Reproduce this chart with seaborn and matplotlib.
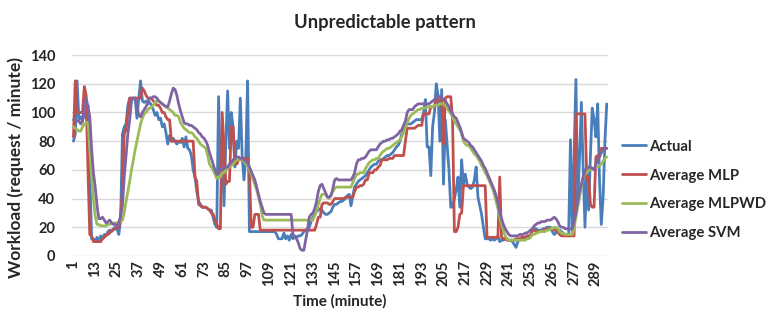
import matplotlib
matplotlib.use("Agg")
import matplotlib.pyplot as plt
import seaborn as sns
import pandas as pd
from matplotlib.lines import Line2D

actual = [
    80, 85, 122, 95, 97, 94, 100, 96, 105, 60,
    12, 12, 10, 13, 10, 14, 12, 15, 14, 17,
    18, 17, 19, 20, 19, 15, 25, 85, 90, 92,
    105, 110, 110, 110, 110, 96, 110, 122, 108, 107,
    108, 106, 107, 105, 102, 98, 100, 95, 96, 90,
    92, 86, 78, 84, 80, 82, 80, 78, 80, 79,
    82, 76, 83, 75, 74, 70, 60, 55, 45, 38,
    36, 34, 34, 34, 33, 32, 32, 27, 22, 20,
    111, 57, 78, 35, 80, 115, 75, 100, 90, 62,
    80, 75, 110, 70, 53, 68, 122, 17, 17, 17,
    17, 17, 17, 17, 17, 17, 17, 17, 17, 17,
    17, 17, 15, 12, 12, 12, 16, 12, 14, 11,
    15, 12, 14, 13, 14, 14, 15, 17, 18, 19,
    20, 24, 27, 29, 31, 32, 33, 32, 30, 29,
    29, 30, 31, 34, 36, 36, 37, 38, 38, 39,
    40, 42, 43, 35, 42, 48, 50, 52, 53, 54,
    55, 56, 58, 60, 62, 63, 64, 64, 66, 67,
    67, 68, 69, 70, 70, 71, 72, 74, 76, 77,
    80, 85, 88, 90, 92, 92, 92, 93, 94, 95,
    95, 95, 95, 100, 109, 76, 76, 56, 90, 100,
    120, 112, 80, 116, 50, 95, 78, 60, 34, 34,
    40, 46, 55, 34, 67, 50, 57, 50, 48, 47,
    48, 53, 62, 41, 35, 29, 20, 12, 12, 12,
    11, 12, 11, 12, 14, 10, 11, 11, 12, 12,
    11, 11, 10, 8, 6, 10, 12, 12, 13, 13,
    13, 14, 14, 18, 19, 19, 18, 18, 18, 19,
    19, 20, 20, 20, 17, 15, 16, 18, 18, 17,
    16, 15, 15, 15, 81, 15, 71, 123, 36, 69,
    107, 60, 20, 60, 32, 70, 103, 95, 83, 106,
    53, 22, 41, 80, 106,
]

avg_mlp = [
    83, 122, 100, 100, 100, 100, 118, 112, 60, 15,
    14, 10, 10, 10, 10, 10, 12, 13, 15, 15,
    16, 18, 18, 19, 20, 20, 28, 45, 85, 88,
    100, 110, 110, 110, 110, 110, 110, 110, 117, 115,
    112, 110, 110, 110, 108, 107, 105, 105, 103, 100,
    100, 97, 95, 95, 80, 80, 80, 80, 80, 80,
    80, 80, 80, 80, 80, 80, 80, 55, 52, 36,
    35, 34, 34, 34, 33, 32, 30, 29, 25, 22,
    19, 19, 100, 75, 50, 52, 52, 90, 90, 64,
    64, 67, 67, 68, 68, 68, 68, 60, 20, 20,
    29, 29, 29, 18, 18, 18, 18, 18, 18, 18,
    18, 18, 18, 18, 18, 18, 18, 18, 18, 18,
    18, 18, 18, 18, 18, 18, 18, 18, 18, 18,
    18, 18, 18, 18, 22, 27, 27, 36, 37, 37,
    37, 36, 36, 38, 40, 40, 40, 40, 40, 40,
    41, 41, 41, 41, 41, 45, 48, 48, 49, 49,
    50, 53, 53, 58, 58, 58, 60, 60, 62, 63,
    67, 67, 67, 67, 68, 68, 68, 70, 70, 70,
    70, 70, 70, 80, 89, 89, 89, 89, 89, 90,
    91, 91, 91, 99, 99, 99, 99, 104, 104, 104,
    109, 109, 108, 108, 78, 110, 111, 111, 111, 95,
    17, 17, 20, 29, 30, 49, 49, 49, 49, 49,
    49, 49, 49, 49, 49, 49, 49, 49, 13, 13,
    13, 13, 13, 13, 13, 55, 13, 12, 12, 11,
    11, 11, 11, 11, 12, 12, 12, 13, 13, 13,
    14, 14, 14, 18, 18, 17, 17, 17, 17, 18,
    18, 19, 19, 19, 19, 18, 18, 17, 15, 14,
    14, 14, 14, 14, 14, 14, 14, 99, 99, 99,
    99, 99, 99, 53, 55, 36, 34, 34, 69, 70,
    70, 75, 75, 75, 75,
]

avg_mlpwd = [
    90, 89, 88, 87, 87, 90, 92, 93, 93, 75,
    55, 40, 28, 22, 22, 21, 21, 21, 21, 22,
    22, 23, 23, 23, 23, 24, 24, 25, 30, 38,
    45, 52, 60, 67, 74, 80, 86, 92, 96, 99,
    100, 102, 103, 104, 105, 107, 108, 108, 107, 106,
    105, 104, 103, 102, 101, 100, 98, 98, 97, 93,
    91, 89, 88, 87, 86, 86, 85, 83, 82, 80,
    78, 77, 76, 75, 70, 64, 62, 60, 57, 54,
    55, 55, 58, 58, 60, 61, 62, 63, 64, 66,
    67, 67, 68, 67, 66, 64, 63, 60, 57, 53,
    50, 46, 41, 36, 28, 25, 25, 25, 25, 25,
    25, 25, 25, 25, 25, 25, 25, 25, 25, 25,
    25, 25, 25, 25, 25, 25, 25, 25, 25, 25,
    25, 25, 25, 28, 31, 36, 40, 43, 43, 43,
    41, 40, 43, 45, 47, 48, 48, 48, 48, 48,
    48, 48, 48, 48, 51, 54, 57, 57, 58, 58,
    58, 61, 63, 65, 66, 67, 67, 68, 68, 70,
    72, 73, 74, 75, 75, 76, 77, 78, 79, 80,
    81, 83, 86, 90, 93, 96, 98, 99, 100, 101,
    102, 102, 103, 103, 103, 104, 104, 104, 104, 105,
    105, 105, 106, 106, 106, 105, 103, 101, 99, 97,
    94, 92, 90, 88, 85, 80, 78, 77, 77, 75,
    73, 71, 70, 68, 66, 63, 61, 58, 56, 53,
    50, 47, 43, 38, 33, 27, 22, 18, 14, 12,
    11, 11, 11, 11, 11, 11, 11, 11, 11, 11,
    12, 12, 13, 15, 15, 16, 16, 17, 17, 17,
    17, 18, 18, 19, 19, 20, 20, 19, 17, 16,
    16, 15, 15, 15, 15, 15, 20, 27, 34, 41,
    48, 55, 57, 58, 60, 60, 61, 61, 62, 62,
    63, 64, 66, 68, 69,
]

avg_svm = [
    95, 95, 94, 94, 92, 94, 105, 110, 104, 97,
    75, 58, 48, 35, 26, 26, 27, 25, 23, 24,
    25, 23, 22, 22, 21, 23, 28, 35, 55, 70,
    85, 95, 108, 110, 110, 105, 98, 97, 100, 102,
    104, 107, 110, 110, 111, 111, 110, 108, 107, 106,
    105, 104, 104, 108, 113, 117, 116, 112, 106, 101,
    97, 93, 92, 92, 91, 91, 90, 89, 88, 86,
    85, 83, 82, 80, 77, 72, 68, 64, 60, 57,
    58, 60, 61, 61, 62, 62, 64, 65, 67, 68,
    69, 69, 68, 68, 67, 66, 65, 62, 59, 56,
    53, 48, 43, 38, 34, 30, 29, 29, 29, 29,
    29, 29, 29, 29, 29, 29, 29, 29, 29, 29,
    29, 15, 13, 12, 9, 5, 4, 4, 11, 18,
    27, 29, 30, 33, 38, 45, 49, 50, 47, 44,
    41, 41, 42, 47, 53, 54, 53, 53, 53, 53,
    53, 53, 53, 53, 55, 58, 64, 67, 67, 68,
    68, 69, 71, 73, 74, 74, 74, 74, 76, 78,
    79, 80, 80, 81, 81, 82, 82, 83, 84, 85,
    87, 88, 91, 94, 100, 102, 102, 102, 104, 105,
    106, 106, 106, 106, 106, 106, 106, 107, 108, 109,
    110, 111, 111, 110, 109, 108, 106, 104, 101, 99,
    97, 96, 93, 90, 86, 82, 81, 80, 79, 77,
    76, 74, 72, 70, 68, 66, 63, 61, 58, 55,
    52, 49, 46, 42, 37, 30, 26, 22, 19, 17,
    15, 14, 14, 14, 14, 14, 15, 15, 15, 16,
    16, 17, 18, 19, 21, 22, 23, 23, 24, 24,
    24, 25, 25, 25, 26, 27, 26, 24, 21, 20,
    20, 19, 19, 19, 19, 19, 24, 30, 38, 45,
    50, 55, 60, 61, 62, 62, 61, 60, 64, 67,
    69, 72, 74, 75, 75,
]

series_names = ["Actual", "Average MLP", "Average MLPWD", "Average SVM"]
series_values = [actual, avg_mlp, avg_mlpwd, avg_svm]
colors = ["#4A7EBB", "#C0504D", "#9BBB59", "#8064A2"]
x_ticks = list(range(1, 290, 12))
y_ticks = [0, 20, 40, 60, 80, 100, 120, 140]

frames = []
for name, vals in zip(series_names, series_values):
    frames.append(pd.DataFrame({"minute": list(range(1, len(vals) + 1)),
                                "value": vals, "series": name}))
df = pd.concat(frames, ignore_index=True)

sns.set_theme(style="white")
FONT = ["Lato", "DejaVu Sans"]
plt.rcParams["font.family"] = FONT

fig = plt.figure(figsize=(7.66, 3.22), dpi=100)
ax = fig.add_axes([0.094, 0.205, 0.700, 0.624])

sns.lineplot(data=df, x="minute", y="value", hue="series",
             hue_order=series_names, palette=colors, linewidth=2.0,
             ax=ax, legend=False, estimator=None)

ax.set_xlim(0.2, 295.8)
ax.set_ylim(0, 140)
ax.set_xticks(x_ticks)
ax.set_xticklabels([str(t) for t in x_ticks], rotation=90,
                   fontsize=10.5, fontweight="bold")
ax.set_yticks(y_ticks)
ax.set_yticklabels([str(t) for t in y_ticks], fontsize=10.5, fontweight="bold")
ax.tick_params(axis="x", length=0, pad=3)
ax.tick_params(axis="y", length=0, pad=12)
ax.grid(axis="y", color="#d9d9d9", linewidth=1.0)
ax.set_axisbelow(True)
for s in ax.spines.values():
    s.set_visible(False)

ax.set_xlabel("Time (minute)", fontsize=11, fontweight="bold", labelpad=6)
ax.set_ylabel("Workload (request / minute)", fontsize=12.5, fontweight="bold")
ax.yaxis.set_label_coords(-0.09, 0.44)
fig.text(0.502, 0.93, "Unpredictable pattern", ha="center", va="center",
         fontsize=13.2, fontweight="bold")

handles = [Line2D([0], [0], color=c, lw=2.0) for c in colors]
fig.legend(handles, series_names, loc="center left",
           bbox_to_anchor=(0.812, 0.41), frameon=False, borderaxespad=0,
           borderpad=0,
           prop={"family": FONT, "weight": "bold", "size": 10.7},
           handlelength=1.6, handletextpad=0.25, labelspacing=1.0)

fig.savefig("out.png", dpi=100)
